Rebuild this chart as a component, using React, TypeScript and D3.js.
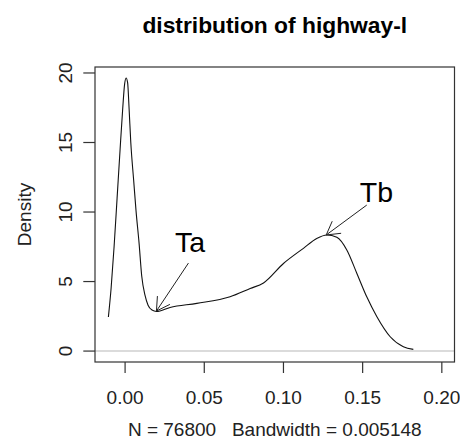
import React from "react";
import * as d3 from "d3";

const title = "distribution of highway-l";
const yLabel = "Density";
const subLabel = "N = 76800   Bandwidth = 0.005148";

const densX = [
  -0.01055, -0.00884, -0.00695, -0.00505, -0.00316, -0.00158, -0.0003, 0.00063,
  0.0016, 0.0025, 0.0036, 0.0054, 0.0069, 0.0088, 0.0105, 0.0126, 0.0145, 0.017, 0.0198,
  0.0284, 0.0453, 0.0663, 0.079, 0.0874, 0.1, 0.1126, 0.121, 0.1274, 0.1337, 0.14,
  0.1463, 0.1526, 0.159, 0.1674, 0.1757, 0.182,
];
const densY = [
  2.45, 4.5, 7.5, 11, 14.5, 17.3, 19.2, 19.64,
  19.3, 17.5, 15, 12.3, 10.1, 7.8, 5.4, 4.0, 3.3, 2.95, 2.85,
  3.14, 3.43, 3.9, 4.5, 4.9, 6.3, 7.39, 8.1, 8.35, 8.18, 7.27,
  5.6, 3.9, 2.47, 1.03, 0.31, 0.12,
];

const xTicks = [0, 0.05, 0.1, 0.15, 0.2];
const yTicks = [0, 5, 10, 15, 20];
const xDomain = [-0.019, 0.208];
const yDomain = [-0.786, 20.43];

const labels = ["Ta", "Tb"];
const labelX = [0.041, 0.1587];
const labelY = [7.12, 10.74];
const arrowX0 = [0.04, 0.1526];
const arrowY0 = [6.33, 10.5];
const arrowX1 = [0.0198, 0.127];
const arrowY1 = [2.88, 8.35];

const W = 460;
const H = 448;
const left = 95, right = 454.5, top = 67, bottom = 362;
const font = "'Liberation Sans', Arial, sans-serif";

export default function App() {
  const x = d3.scaleLinear().domain(xDomain).range([left, right]);
  const y = d3.scaleLinear().domain(yDomain).range([bottom, top]);
  const pts: [number, number][] = densX.map((v, i) => [v, densY[i]]);
  const line = d3
    .line<[number, number]>()
    .x((d) => x(d[0]))
    .y((d) => y(d[1]))
    .curve(d3.curveMonotoneX);

  const arrowHead = (i: number) => {
    const sx = x(arrowX0[i]), sy = y(arrowY0[i]);
    const tx = x(arrowX1[i]), ty = y(arrowY1[i]);
    const ang = Math.atan2(sy - ty, sx - tx);
    const len = 15;
    const a1 = ang + Math.PI / 6, a2 = ang - Math.PI / 6;
    return `M${tx + len * Math.cos(a1)},${ty + len * Math.sin(a1)}L${tx},${ty}L${tx + len * Math.cos(a2)},${ty + len * Math.sin(a2)}`;
  };

  const cx = (left + right) / 2;
  const cy = (top + bottom) / 2;

  return (
    <svg
      width={W}
      height={H}
      style={{ position: "absolute", left: 0, top: 0, background: "#fff" }}
      fontFamily={font}
    >
      <rect x={0} y={0} width={W} height={H} fill="#fff" />
      <text x={cx} y={33} textAnchor="middle" fontSize={22.8} fontWeight="bold" fill="#000">
        {title}
      </text>
      <path d={line(pts) || ""} fill="none" stroke="#111" strokeWidth={1.1} />
      <line x1={left} x2={right} y1={y(0)} y2={y(0)} stroke="#cfcfcf" strokeWidth={1.5} />
      <rect x={left} y={top} width={right - left} height={bottom - top} fill="none" stroke="#333" strokeWidth={1.2} />
      {xTicks.map((t) => (
        <g key={"x" + t}>
          <line x1={x(t)} x2={x(t)} y1={bottom} y2={bottom + 11} stroke="#333" strokeWidth={1.2} />
          <text x={x(t)} y={404} textAnchor="middle" fontSize={19} fill="#222">
            {t.toFixed(2)}
          </text>
        </g>
      ))}
      {yTicks.map((t) => (
        <g key={"y" + t}>
          <line x1={left - 11.7} x2={left} y1={y(t)} y2={y(t)} stroke="#333" strokeWidth={1.2} />
          <text
            transform={`translate(71.5,${y(t)}) rotate(-90)`}
            textAnchor="middle"
            fontSize={19}
            fill="#222"
          >
            {t}
          </text>
        </g>
      ))}
      <text transform={`translate(31,${cy}) rotate(-90)`} textAnchor="middle" fontSize={19} fill="#222">
        {yLabel}
      </text>
      <text x={cx} y={436} textAnchor="middle" fontSize={19} fill="#222" style={{ whiteSpace: "pre" }}>
        {subLabel}
      </text>
      {labels.map((l, i) => (
        <g key={l}>
          <line
            x1={x(arrowX0[i])}
            y1={y(arrowY0[i])}
            x2={x(arrowX1[i])}
            y2={y(arrowY1[i])}
            stroke="#222"
            strokeWidth={1}
          />
          <path d={arrowHead(i)} fill="none" stroke="#222" strokeWidth={1} />
          <text x={x(labelX[i])} y={y(labelY[i])} textAnchor="middle" fontSize={28.5} fill="#000">
            {l}
          </text>
        </g>
      ))}
    </svg>
  );
}
